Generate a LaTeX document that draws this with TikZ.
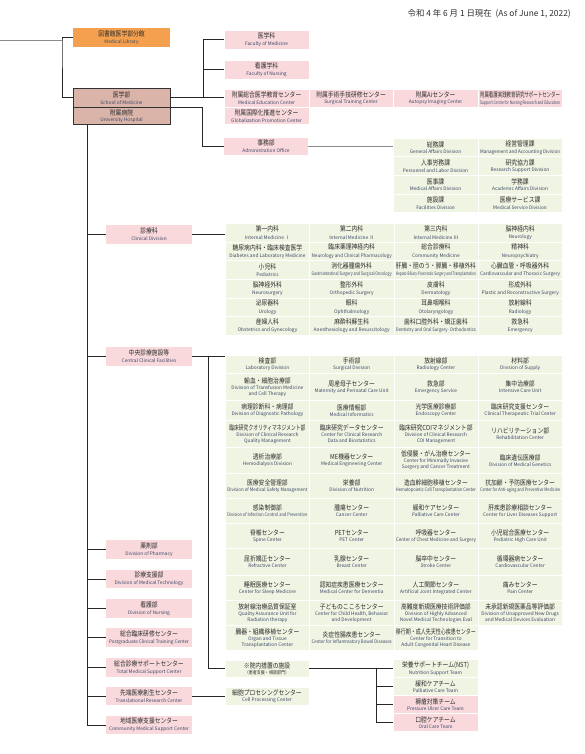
\documentclass[tikz,border=0pt]{standalone}
\usepackage{fontspec}
\setmainfont{Noto Sans CJK JP}
\newfontfamily\jpfont[FakeStretch=0.84]{Noto Sans CJK JP}
\usepackage{graphicx}
\usetikzlibrary{positioning,calc}

\definecolor{boxpink}{HTML}{F9D9DC}
\definecolor{cellgreen}{HTML}{F0F4E2}
\definecolor{liborange}{HTML}{F4A04E}
\definecolor{facrose}{HTML}{DBB4A9}
\definecolor{jpgray}{HTML}{2E2E2E}
\definecolor{engray}{HTML}{3B4868}

\newcommand{\jtx}[2][80pt]{\resizebox{\ifdim\width>#1 #1\else\width\fi}{\height}{\jpfont\fontsize{6.9}{7}\selectfont\color{jpgray}#2}}
\newcommand{\etx}[2][80pt]{\resizebox{\ifdim\width>#1 #1\else\width\fi}{\height}{\fontsize{4.8}{5}\selectfont\color{engray}#2}}

\begin{document}
\begin{tikzpicture}[x=1pt, y=-1pt,
  line/.style={draw=black!85, line width=0.8pt},
  gline/.style={draw=black!45, line width=0.8pt},
  lbox/.style={fill=boxpink, inner sep=0pt, minimum width=86pt, minimum height=18.5pt, align=center, font=\fontsize{4.8}{6.8}\selectfont},
  tbox/.style={fill=boxpink, draw=white, line width=0.6pt, inner sep=0pt, anchor=north west, minimum width=84.5pt, minimum height=18pt, align=center, font=\fontsize{4.8}{6.8}\selectfont},
  cell/.style={fill=cellgreen, draw=white, line width=0.6pt, inner sep=0pt, anchor=north west, minimum width=84.25pt, align=center, font=\fontsize{4.8}{6}\selectfont},
  clcell/.style={cell, minimum height=18.67pt, font=\fontsize{4.8}{7.3}\selectfont},
  adcell/.style={cell, minimum width=84.5pt, minimum height=18.5pt, font=\fontsize{4.8}{6.8}\selectfont},
  team/.style={fill=#1, draw=white, line width=0.6pt, inner sep=0pt, minimum width=85pt, minimum height=17.5pt, align=center, font=\fontsize{4.8}{6.6}\selectfont}]
\useasboundingbox (0,0) rectangle (585,754);

% date
\node[anchor=east, inner sep=0pt, font=\fontsize{8.4}{9}\selectfont\color{jpgray}] (date) at (571,14) {令和 4 年 6 月 1 日現在\ \ (As of June 1, 2022)};

% faculty / hospital
\node[fill=liborange, inner sep=0pt, minimum width=97pt, minimum height=18.5pt, align=center, font=\fontsize{4.8}{6.8}\selectfont] (lib) at (121.5,37.5) {\jtx{図書館医学部分館}\\\etx{Medical Library}};
\node[fill=facrose, draw=black!80, line width=0.5pt, inner sep=0pt, minimum width=97pt, minimum height=18.5pt, align=center, font=\fontsize{4.8}{6.8}\selectfont] (som) at (121.5,97.75) {\jtx{医学部}\\\etx{School of Medicine}};
\node[fill=facrose, draw=black!80, line width=0.5pt, inner sep=0pt, minimum width=97pt, minimum height=17.5pt, align=center, font=\fontsize{4.8}{6.6}\selectfont] (hosp) at (121.5,116) {\jtx{附属病院}\\\etx{University Hospital}};

\node[tbox, minimum height=19pt] (fmed) at (224,30) {\jtx{医学科}\\\etx{Faculty of Medicine}};
\node[tbox, minimum height=19pt] (fnur) at (224,60) {\jtx{看護学科}\\\etx{Faculty of Nursing}};
\node[tbox] (mec) at (224,89) {\jtx{附属総合医学教育センター}\\\etx{Medical Education Center}};
\node[tbox] (stc) at (308.5,89) {\jtx{附属手術手技研修センター}\\\etx{Surgical Training Center}};
\node[tbox] (aic) at (393,89) {\jtx{附属Aiセンター}\\\etx{Autopsy Imaging Center}};
\node[tbox] (snr) at (477.5,89) {\jtx{附属看護実践教育研究サポートセンター}\\\etx{Support Centre for Nursing Research and Education}};
\node[tbox, minimum height=17pt] (gpc) at (224,107) {\jtx{附属国際化推進センター}\\\etx{Globalization Promotion Center}};

% administration
\node[lbox, minimum width=84pt, minimum height=17pt] (adm) at (266,146.5) {\jtx{事務部}\\\etx{Administration Office}};
\node[adcell] (ad1) at (393,138) {\jtx{総務課}\\\etx{General Affairs Division}};
\node[adcell] (ad2) at (477.5,138) {\jtx{経営管理課}\\\etx{Management and Accounting Division}};
\node[adcell] (ad3) at (393,156.5) {\jtx{人事労務課}\\\etx{Personnel and Labor Division}};
\node[adcell] (ad4) at (477.5,156.5) {\jtx{研究協力課}\\\etx{Research Support Division}};
\node[adcell] (ad5) at (393,175) {\jtx{医事課}\\\etx{Medical Affairs Division}};
\node[adcell] (ad6) at (477.5,175) {\jtx{学務課}\\\etx{Academic Affairs Division}};
\node[adcell] (ad7) at (393,193.5) {\jtx{施設課}\\\etx{Facilities Division}};
\node[adcell] (ad8) at (477.5,193.5) {\jtx{医療サービス課}\\\etx{Medical Service Division}};

% hospital divisions
\node[lbox] (clin) at (149,234.5) {\jtx{診療科}\\\etx{Clinical Division}};
\node[lbox] (cent) at (149,356.5) {\jtx{中央診療施設等}\\\etx{Central Clinical Facilities}};
\node[lbox] (phar) at (149,549.5) {\jtx{薬剤部}\\\etx{Division of Pharmacy}};
\node[lbox] (mtech) at (149,579) {\jtx{診療支援部}\\\etx{Division of Medical Technology}};
\node[lbox] (nurs) at (149,608.5) {\jtx{看護部}\\\etx{Division of Nursing}};
\node[lbox] (pgct) at (149,637.5) {\jtx{総合臨床研修センター}\\\etx{Postgraduate Clinical Training Center}};
\node[lbox] (tmsc) at (149,667.5) {\jtx{総合診療サポートセンター}\\\etx{Total Medical Support Center}};
\node[lbox] (trc) at (149,696) {\jtx{先端医療創生センター}\\\etx{Translational Research Center}};
\node[lbox] (cmsc) at (149,725) {\jtx{地域医療支援センター}\\\etx{Community Medical Support Center}};

% clinical division
\node[clcell] (cl11) at (225,223) {\jtx{第一内科}\\\etx{Internal Medicine Ⅰ}};
\node[clcell] (cl12) at (309.25,223) {\jtx{第二内科}\\\etx{Internal Medicine Ⅱ}};
\node[clcell] (cl13) at (393.5,223) {\jtx{第三内科}\\\etx{Internal Medicine Ⅲ}};
\node[clcell] (cl14) at (477.75,223) {\jtx{脳神経内科}\\\etx{Neurology}};
\node[clcell] (cl21) at (225,241.67) {\jtx{糖尿病内科・臨床検査医学}\\\etx{Diabetes and Laboratory Medicine}};
\node[clcell] (cl22) at (309.25,241.67) {\jtx{臨床薬理神経内科}\\\etx{Neurology and Clinical Pharmacology}};
\node[clcell] (cl23) at (393.5,241.67) {\jtx{総合診療科}\\\etx{Community Medicine}};
\node[clcell] (cl24) at (477.75,241.67) {\jtx{精神科}\\\etx{Neuropsychiatry}};
\node[clcell] (cl31) at (225,260.33) {\jtx{小児科}\\\etx{Pediatrics}};
\node[clcell] (cl32) at (309.25,260.33) {\jtx{消化器腫瘍外科}\\\etx{Gastrointestinal Surgery and Surgical Oncology}};
\node[clcell] (cl33) at (393.5,260.33) {\jtx{肝臓・胆のう・膵臓・移植外科}\\\etx{Hepato-Biliary-Pancreatic Surgery and Transplantation}};
\node[clcell] (cl34) at (477.75,260.33) {\jtx{心臓血管・呼吸器外科}\\\etx{Cardiovascular and Thoracic Surgery}};
\node[clcell] (cl41) at (225,279) {\jtx{脳神経外科}\\\etx{Neurosurgery}};
\node[clcell] (cl42) at (309.25,279) {\jtx{整形外科}\\\etx{Orthopedic Surgery}};
\node[clcell] (cl43) at (393.5,279) {\jtx{皮膚科}\\\etx{Dermatology}};
\node[clcell] (cl44) at (477.75,279) {\jtx{形成外科}\\\etx{Plastic and Reconstructive Surgery}};
\node[clcell] (cl51) at (225,297.67) {\jtx{泌尿器科}\\\etx{Urology}};
\node[clcell] (cl52) at (309.25,297.67) {\jtx{眼科}\\\etx{Ophthalmology}};
\node[clcell] (cl53) at (393.5,297.67) {\jtx{耳鼻咽喉科}\\\etx{Otolaryngology}};
\node[clcell] (cl54) at (477.75,297.67) {\jtx{放射線科}\\\etx{Radiology}};
\node[clcell] (cl61) at (225,316.33) {\jtx{産婦人科}\\\etx{Obstetrics and Gynecology}};
\node[clcell] (cl62) at (309.25,316.33) {\jtx{麻酔科蘇生科}\\\etx{Anesthesiology and Resuscitology}};
\node[clcell] (cl63) at (393.5,316.33) {\jtx{歯科口腔外科・矯正歯科}\\\etx{Dentistry and Oral Surgery·Orthodontics}};
\node[clcell] (cl64) at (477.75,316.33) {\jtx{救急科}\\\etx{Emergency}};

% central clinical facilities
\node[cell, minimum height=18pt] (cc11) at (225,355) {\jtx{検査部}\\\etx{Laboratory Division}};
\node[cell, minimum height=18pt] (cc12) at (309.25,355) {\jtx{手術部}\\\etx{Surgical Division}};
\node[cell, minimum height=18pt] (cc13) at (393.5,355) {\jtx{放射線部}\\\etx{Radiology Center}};
\node[cell, minimum height=18pt] (cc14) at (477.75,355) {\jtx{材料部}\\\etx{Division of Supply}};
\node[cell, minimum height=27pt] (cc21) at (225,373) {\jtx{輸血・細胞治療部}\\\etx{Division of Transfusion Medicine}\\\etx{and Cell Therapy}};
\node[cell, minimum height=27pt] (cc22) at (309.25,373) {\jtx{周産母子センター}\\\etx{Maternity and Perinatal Care Unit}};
\node[cell, minimum height=27pt] (cc23) at (393.5,373) {\jtx{救急部}\\\etx{Emergency Service}};
\node[cell, minimum height=27pt] (cc24) at (477.75,373) {\jtx{集中治療部}\\\etx{Intensive Care Unit}};
\node[cell, minimum height=20pt] (cc31) at (225,400) {\jtx{病理診断科・病理部}\\\etx{Division of Diagnostic Pathology}};
\node[cell, minimum height=20pt] (cc32) at (309.25,400) {\jtx{医療情報部}\\\etx{Medical Informatics}};
\node[cell, minimum height=20pt] (cc33) at (393.5,400) {\jtx{光学医療診療部}\\\etx{Endoscopy Center}};
\node[cell, minimum height=20pt] (cc34) at (477.75,400) {\jtx{臨床研究支援センター}\\\etx{Clinical Therapeutic Trial Center}};
\node[cell, minimum height=27pt] (cc41) at (225,420) {\jtx[76pt]{臨床研究クオリティマネジメント部}\\\etx{Division of Clinical Research}\\\etx{Quality Management}};
\node[cell, minimum height=27pt] (cc42) at (309.25,420) {\jtx{臨床研究データセンター}\\\etx{Center for Clinical Research}\\\etx{Data and Biostatistics}};
\node[cell, minimum height=27pt] (cc43) at (393.5,420) {\jtx[76pt]{臨床研究COIマネジメント部}\\\etx{Division of Clinical Research}\\\etx{COI Management}};
\node[cell, minimum height=27pt] (cc44) at (477.75,420) {\jtx{リハビリテーション部}\\\etx{Rehabilitation Center}};
\node[cell, minimum height=26pt] (cc51) at (225,447) {\jtx{透析治療部}\\\etx{Hemodialysis Division}};
\node[cell, minimum height=26pt] (cc52) at (309.25,447) {\jtx{ME機器センター}\\\etx{Medical Engineering Center}};
\node[cell, minimum height=26pt] (cc53) at (393.5,447) {\jtx{低侵襲・がん治療センター}\\\etx{Center for Minimally Invasive}\\\etx{Surgery and Cancer Treatment}};
\node[cell, minimum height=26pt] (cc54) at (477.75,447) {\jtx{臨床遺伝医療部}\\\etx{Division of Medical Genetics}};
\node[cell, minimum height=25pt] (cc61) at (225,473) {\jtx{医療安全管理部}\\\etx{Division of Medical Safety Management}};
\node[cell, minimum height=25pt] (cc62) at (309.25,473) {\jtx{栄養部}\\\etx{Division of Nutrition}};
\node[cell, minimum height=25pt] (cc63) at (393.5,473) {\jtx{造血幹細胞移植センター}\\\etx{Hematopoietic Cell Transplantation Center}};
\node[cell, minimum height=25pt] (cc64) at (477.75,473) {\jtx{抗加齢・予防医療センター}\\\etx{Center for Anti-aging and Preventive Medicine}};
\node[cell, minimum height=25pt] (cc71) at (225,498) {\jtx{感染制御部}\\\etx{Division of Infection Control and Prevention}};
\node[cell, minimum height=25pt] (cc72) at (309.25,498) {\jtx{腫瘍センター}\\\etx{Cancer Center}};
\node[cell, minimum height=25pt] (cc73) at (393.5,498) {\jtx{緩和ケアセンター}\\\etx{Palliative Care Center}};
\node[cell, minimum height=25pt] (cc74) at (477.75,498) {\jtx{肝疾患診療相談センター}\\\etx{Center for Liver Diseases Support}};
\node[cell, minimum height=25pt] (cc81) at (225,523) {\jtx{脊椎センター}\\\etx{Spine Center}};
\node[cell, minimum height=25pt] (cc82) at (309.25,523) {\jtx{PETセンター}\\\etx{PET Center}};
\node[cell, minimum height=25pt] (cc83) at (393.5,523) {\jtx{呼吸器センター}\\\etx{Center of Chest Medicine and Surgery}};
\node[cell, minimum height=25pt] (cc84) at (477.75,523) {\jtx{小児総合医療センター}\\\etx{Pediatric High Care Unit}};
\node[cell, minimum height=27pt] (cc91) at (225,548) {\jtx{屈折矯正センター}\\\etx{Refractive Center}};
\node[cell, minimum height=27pt] (cc92) at (309.25,548) {\jtx{乳腺センター}\\\etx{Breast Center}};
\node[cell, minimum height=27pt] (cc93) at (393.5,548) {\jtx{脳卒中センター}\\\etx{Stroke Center}};
\node[cell, minimum height=27pt] (cc94) at (477.75,548) {\jtx{循環器病センター}\\\etx{Cardiovascular Center}};
\node[cell, minimum height=25pt] (cc101) at (225,575) {\jtx{睡眠医療センター}\\\etx{Center for Sleep Medicine}};
\node[cell, minimum height=25pt] (cc102) at (309.25,575) {\jtx{認知症疾患医療センター}\\\etx{Medical Center for Dementia}};
\node[cell, minimum height=25pt] (cc103) at (393.5,575) {\jtx{人工関節センター}\\\etx{Artificial Joint Integrated Center}};
\node[cell, minimum height=25pt] (cc104) at (477.75,575) {\jtx{痛みセンター}\\\etx{Pain Center}};
\node[cell, minimum height=25pt] (cc111) at (225,600) {\jtx{放射線治療品質保証室}\\\etx{Quality Assurance Unit for}\\\etx{Radiation therapy}};
\node[cell, minimum height=25pt] (cc112) at (309.25,600) {\jtx{子どものこころセンター}\\\etx{Center for Child Health, Behavior}\\\etx{and Development}};
\node[cell, minimum height=25pt] (cc113) at (393.5,600) {\jtx{高難度新規医療技術評価部}\\\etx{Division of Highly Advanced}\\\etx{Novel Medical Technologies Eval}};
\node[cell, minimum height=25pt] (cc114) at (477.75,600) {\jtx{未承認新規医薬品等評価部}\\\etx{Division of Unapproved New Drugs}\\\etx{and Medical Devices Evaluation}};
\node[cell, minimum height=25pt] (cc121) at (225,625) {\jtx{臓器・組織移植センター}\\\etx{Organ and Tissue}\\\etx{Transplantation Center}};
\node[cell, minimum height=25pt] (cc122) at (309.25,625) {\jtx{炎症性腸疾患センター}\\\etx{Center for Inflammatory Bowel Diseases}};
\node[cell, minimum height=25pt] (cc123) at (393.5,625) {\jtx{移行期・成人先天性心疾患センター}\\\etx{Center for Transition to}\\\etx{Adult Congenital Heart Disease}};

% in-hospital facilities and teams
\node[cell, anchor=center, minimum width=84pt, minimum height=17pt] (ins) at (267,668.5) {\jtx{※院内措置の施設}\\{\jpfont\fontsize{4.8}{5}\selectfont\color{jpgray}（患者支援・相談部門）}};
\node[cell, anchor=center, minimum width=84pt, minimum height=18pt] (cpc) at (267,696) {\jtx{細胞プロセシングセンター}\\\etx{Cell Processing Center}};
\node[team=cellgreen] (nst) at (435.5,668.5) {\jtx{栄養サポートチーム(NST)}\\\etx{Nutrition Support Team}};
\node[team=cellgreen] (pct) at (435.5,686.5) {\jtx{緩和ケアチーム}\\\etx{Palliative Care Team}};
\node[team=boxpink] (puc) at (435.5,704.5) {\jtx{褥瘡対策チーム}\\\etx{Pressure Ulcer Care Team}};
\node[team=boxpink] (oct) at (435.5,722.5) {\jtx{口腔ケアチーム}\\\etx{Oral Care Team}};

% connectors
\coordinate (rt) at (0,40);
\coordinate (j1) at (62,40);
\coordinate (j2) at (203,97.75);
\coordinate (j3) at ([xshift=14.3pt]hosp.south west);
\draw[gline] (rt) -- (j1);
\draw[line] (lib.west) -| (j1) |- (som.west);
\draw[line] (som.east) -- (som.east -| mec.west);
\draw[line] (fmed.west) -| (j2);
\draw[line] (fnur.west) -- (fnur.west -| j2);
\draw[line] (hosp.north east) -| ([xshift=-21pt]adm.west) -- (adm.west);
\draw[gline] (adm.east) -- (adm.east -| ad1.west);
\draw[line] (j3) |- (cmsc.west);
\foreach \b in {clin,cent,phar,mtech,nurs,pgct,tmsc,trc}
  \draw[line] (\b.west) -- (\b.west -| j3);
\draw[line] (clin.east) -- (clin.east -| cl11.west);
\draw[line] (cent.east) -- (cent.east -| cc11.west);
\draw[line] ([xshift=16pt]cent.east) |- (ins.west);
\draw[line] (trc.east) -- (trc.east -| cpc.west);
\draw[line] (ins.east) -- (nst.west);
\draw[line] ([xshift=-16pt]nst.west) |- (oct.west);
\draw[line] (pct.west) -- ++(-16,0);
\draw[line] (puc.west) -- ++(-16,0);
\end{tikzpicture}
\end{document}
